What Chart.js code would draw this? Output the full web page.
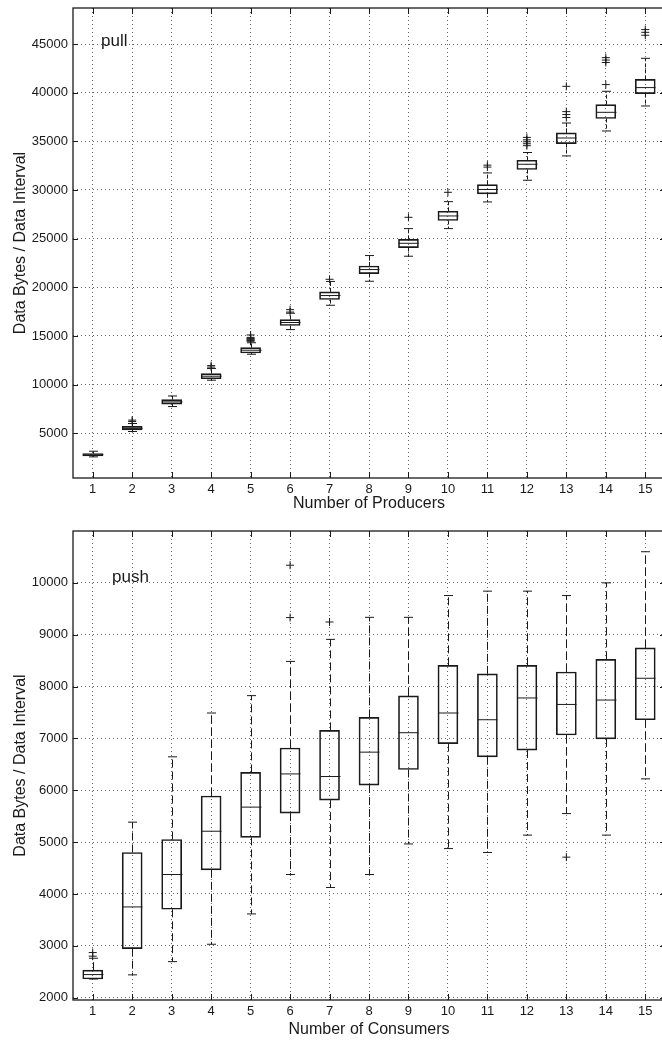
<!DOCTYPE html>
<html>
<head>
<meta charset="utf-8">
<script src="https://cdn.jsdelivr.net/npm/chart.js@4"></script>
<style>
  html, body { margin: 0; padding: 0; background: #fff; overflow: hidden; }
  canvas { position: absolute; left: 0; }
  #pull { top: 0; }
  #push { top: 516px; }
</style>
</head>
<body>
<canvas id="pull" width="670" height="516"></canvas>
<canvas id="push" width="670" height="526"></canvas>
<script>
// x categories (number of producers / consumers)
const counts = ['1', '2', '3', '4', '5', '6', '7', '8', '9', '10', '11', '12', '13', '14', '15'];

// pull: box plot stats per producer count
const pullLo  = [2570, 5180, 7740, 10450, 13120, 15650, 18150, 20620, 23190, 26030, 28770, 31000, 33500, 36060, 38630];
const pullQ1  = [2670, 5330, 8000, 10600, 13250, 16070, 18740, 21410, 24080, 26860, 29600, 32100, 34770, 37340, 39900];
const pullMed = [2790, 5500, 8220, 10860, 13530, 16380, 19150, 21820, 24520, 27330, 30050, 32640, 35340, 37980, 40520];
const pullQ3  = [2910, 5700, 8450, 11130, 13800, 16680, 19520, 22190, 24930, 27810, 30550, 33050, 35860, 38770, 41370];
const pullHi  = [3150, 6000, 8830, 11650, 14300, 17330, 20600, 23260, 26030, 28800, 31750, 33850, 36880, 40140, 43530];
const pullOutliers = [
  [], [6200, 6350], [], [11800, 11950], [14450, 14520, 14600, 14680, 14750, 14850, 15100],
  [17450, 17700], [20820], [], [27190], [29760],
  [32350, 32550], [34550, 34750, 34950, 35150, 35400], [37450, 37750, 38050, 40650],
  [40830, 43100, 43350, 43600], [45900, 46200, 46480]
];
const pullTicks = [5000, 10000, 15000, 20000, 25000, 30000, 35000, 40000, 45000];

// push: box plot stats per consumer count
const pushLo  = [2360, 2440, 2695, 3030, 3615, 4375, 4125, 4375, 4965, 4875, 4800, 5135, 5550, 5135, 6220];
const pushQ1  = [2360, 2945, 3705, 4465, 5090, 5560, 5810, 6100, 6400, 6900, 6645, 6775, 7065, 6990, 7360];
const pushMed = [2445, 3750, 4375, 5210, 5675, 6315, 6265, 6735, 7110, 7490, 7360, 7780, 7655, 7740, 8160];
const pushQ3  = [2530, 4800, 5050, 5890, 6345, 6815, 7155, 7405, 7820, 8410, 8245, 8410, 8280, 8525, 8745];
const pushHi  = [2760, 5385, 6645, 7490, 7825, 8485, 8910, 9335, 9335, 9755, 9840, 9840, 9755, 10000, 10600];
const pushOutliers = [
  [2800, 2870], [], [], [], [], [9330, 10340], [9245], [], [], [], [], [], [4710], [], []
];
const pushTicks = [2000, 3000, 4000, 5000, 6000, 7000, 8000, 9000, 10000];

const INK = '#1a1a1a';
const GRID = '#666';
const FONT = '"Liberation Sans", Arial, Helvetica, sans-serif';

Chart.defaults.font.family = FONT;
Chart.defaults.color = INK;

function seg(ctx, x1, y1, x2, y2) {
  ctx.beginPath();
  ctx.moveTo(x1, y1);
  ctx.lineTo(x2, y2);
  ctx.stroke();
}

// whiskers, caps and medians on top of the floating bars
function whiskerPlugin(lo, med, hi, q1, q3, dash) {
  return {
    id: 'whiskers',
    afterDatasetsDraw(chart) {
      const {ctx, scales: {y}} = chart;
      const bars = chart.getDatasetMeta(0).data;
      ctx.save();
      ctx.strokeStyle = INK;
      ctx.lineWidth = 1;
      bars.forEach((bar, i) => {
        const cx = Math.round(bar.x) + 0.5;
        const half = bar.width / 2;
        const cap = 4.5;
        const yHi = y.getPixelForValue(hi[i]);
        const yLo = y.getPixelForValue(lo[i]);
        ctx.setLineDash(dash);
        seg(ctx, cx, y.getPixelForValue(q3[i]), cx, yHi);
        seg(ctx, cx, y.getPixelForValue(q1[i]), cx, yLo);
        ctx.setLineDash([]);
        seg(ctx, cx - cap, yHi, cx + cap, yHi);
        seg(ctx, cx - cap, yLo, cx + cap, yLo);
        const yM = y.getPixelForValue(med[i]);
        seg(ctx, cx - half, yM, cx + half, yM);
      });
      ctx.restore();
    }
  };
}

// axes box, inward tick marks and the corner note
function framePlugin(note, dx, dy) {
  return {
    id: 'frame',
    afterDraw(chart) {
      const {ctx, chartArea: a, scales: {x, y}} = chart;
      ctx.save();
      ctx.strokeStyle = INK;
      ctx.lineWidth = 1.3;
      ctx.strokeRect(a.left, a.top, a.right - a.left, a.bottom - a.top);
      ctx.lineWidth = 1;
      x.ticks.forEach((t, i) => {
        const px = Math.round(x.getPixelForTick(i)) + 0.5;
        seg(ctx, px, a.top, px, a.top + 6);
        seg(ctx, px, a.bottom, px, a.bottom - 6);
      });
      y.ticks.forEach((t, i) => {
        const py = Math.round(y.getPixelForTick(i)) + 0.5;
        seg(ctx, a.left, py, a.left + 5, py);
        seg(ctx, a.right, py, a.right - 5, py);
      });
      ctx.fillStyle = INK;
      ctx.font = '17px ' + FONT;
      ctx.textBaseline = 'middle';
      ctx.fillText(note, a.left + dx, a.top + dy);
      ctx.restore();
    }
  };
}

function boxChart(id, s) {
  const outliers = s.out.flatMap((vals, i) => vals.map(v => ({x: counts[i], y: v})));
  return new Chart(document.getElementById(id), {
    type: 'bar',
    data: {
      labels: counts,
      datasets: [
        {
          data: s.q1.map((v, i) => [v, s.q3[i]]),
          backgroundColor: 'rgba(0,0,0,0)',
          borderColor: INK,
          borderWidth: 1,
          borderSkipped: false,
          barThickness: 20
        },
        {
          type: 'line',
          data: outliers,
          showLine: false,
          pointStyle: 'cross',
          pointRadius: 4,
          pointHoverRadius: 4,
          borderColor: INK,
          borderWidth: 1
        }
      ]
    },
    options: {
      responsive: false,
      animation: false,
      events: [],
      layout: {padding: {top: s.padTop, right: 3, left: 0, bottom: 0}},
      plugins: {legend: {display: false}, tooltip: {enabled: false}},
      scales: {
        x: {
          offset: true,
          grid: {offset: false, color: GRID, drawTicks: false},
          border: {display: false, dash: [1, 3]},
          ticks: {padding: 4, font: {size: 13}, color: INK},
          title: {display: true, text: s.xTitle, font: {size: 16}, color: INK, padding: {top: 0, bottom: 3}},
          afterFit: (scale) => {
            scale.height = s.xHeight;
            scale.paddingLeft = 0;
            scale.paddingRight = 0;
          }
        },
        y: {
          min: s.min,
          max: s.max,
          afterBuildTicks: (scale) => { scale.ticks = s.ticks.map(v => ({value: v})); },
          grid: {color: GRID, drawTicks: false},
          border: {display: false, dash: [1, 3]},
          ticks: {padding: 5, font: {size: 13}, color: INK, callback: (v) => String(v)},
          title: {display: true, text: 'Data Bytes / Data Interval', font: {size: 16}, color: INK, padding: {top: 11, bottom: 0}},
          afterFit: (scale) => {
            scale.width = 73;
            scale.paddingTop = 0;
            scale.paddingBottom = 0;
          }
        }
      }
    },
    plugins: [
      whiskerPlugin(s.lo, s.med, s.hi, s.q1, s.q3, s.dash),
      framePlugin(s.note, s.noteX, s.noteY)
    ]
  });
}

boxChart('pull', {
  lo: pullLo, q1: pullQ1, med: pullMed, q3: pullQ3, hi: pullHi, out: pullOutliers,
  ticks: pullTicks, min: 400, max: 48700, dash: [4, 2],
  xTitle: 'Number of Producers', note: 'pull', noteX: 28, noteY: 33,
  padTop: 8, xHeight: 38
});

boxChart('push', {
  lo: pushLo, q1: pushQ1, med: pushMed, q3: pushQ3, hi: pushHi, out: pushOutliers,
  ticks: pushTicks, min: 1955, max: 11000, dash: [8, 4],
  xTitle: 'Number of Consumers', note: 'push', noteX: 39, noteY: 46,
  padTop: 15, xHeight: 42
});
</script>
</body>
</html>
